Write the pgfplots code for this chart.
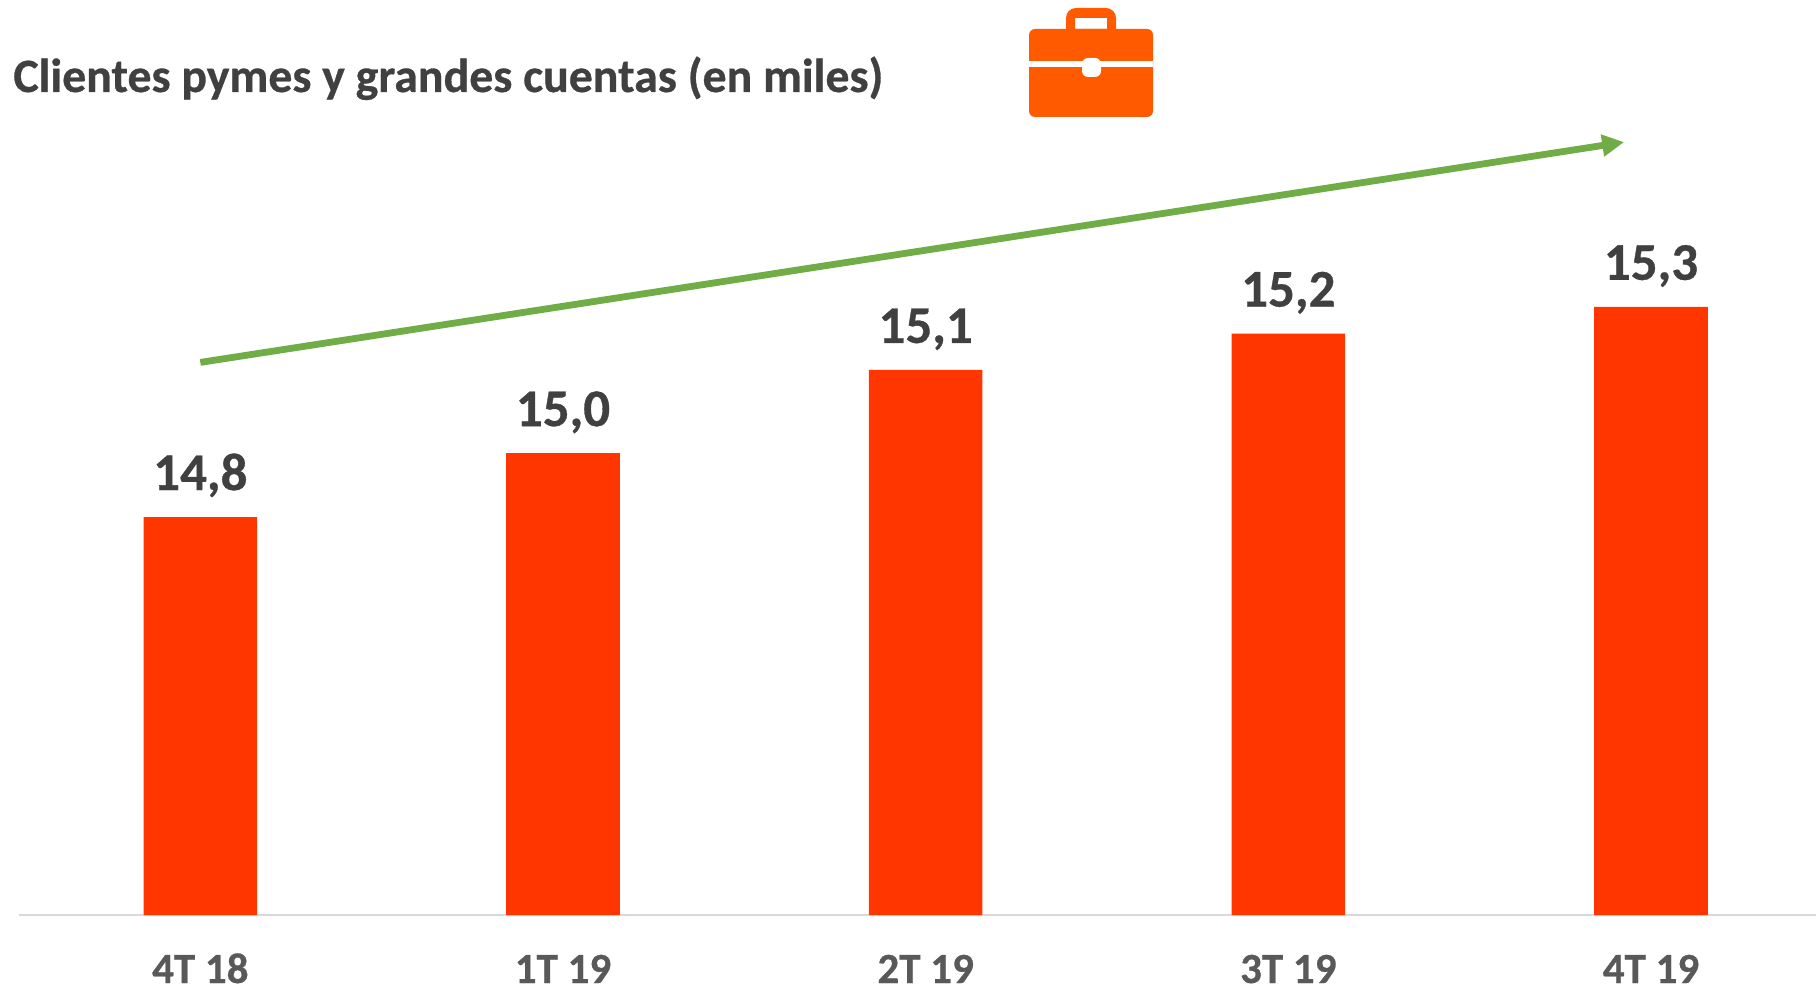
\documentclass[border=0pt]{standalone}
\usepackage{fontspec}
\setmainfont{Carlito}[BoldFeatures={FakeBold=0.6}]
\usepackage{pgfplots}
\pgfplotsset{compat=1.18}
\usetikzlibrary{arrows.meta}
\definecolor{barred}{HTML}{FF3600}
\definecolor{caseor}{HTML}{FF5A00}
\definecolor{arrowgreen}{HTML}{70AD47}
\definecolor{txtdark}{HTML}{404040}
\definecolor{txtgrey}{HTML}{595959}
\definecolor{axisgrey}{HTML}{D9D9D9}
\begin{document}
\begin{tikzpicture}
\path[use as bounding box] (0pt,0pt) rectangle (908pt,493.5pt);
\begin{scope}[x=0.5pt,y=-0.5pt,yshift=493.5pt]
% title
\node[anchor=base west,inner sep=0pt,text=txtdark,font=\bfseries\fontsize{23.9}{26}\selectfont] at (13,92) {Clientes pymes y grandes cuentas (en miles)};
% briefcase icon
\fill[caseor,even odd rule,rounded corners=5pt] (1066,45) -- (1066,8) -- (1116,8) -- (1116,45) -- cycle (1075,29) [sharp corners] -- (1075,18) -- (1107,18) -- (1107,29) -- cycle;
\fill[caseor,rounded corners=3pt] (1029,29) rectangle (1153,117);
\fill[white] (1029,61) rectangle (1153,67);
\fill[white,rounded corners=3pt] (1082,58) -- (1101,58) -- (1101,77) -- (1082,77) -- cycle;
\end{scope}
\begin{axis}[
  at={(9.5pt,36pt)},anchor=south west,
  scale only axis,
  width=898.5pt,height=457.5pt,
  xmin=-0.5,xmax=4.455,
  ymin=13.848,ymax=16.037,
  axis x line=bottom,axis y line=none,
  axis line style={draw=axisgrey,line width=1.2pt,-},
  xtick=data,
  xticklabels={4T 18,1T 19,2T 19,3T 19,4T 19},
  major tick length=0pt,
  tick style={draw=none},
  xticklabel style={anchor=base,yshift=-34pt,text=txtgrey,font=\bfseries\fontsize{21.5}{24}\selectfont},
  clip=false,
]
\addplot[ybar,bar width=56.8pt,bar shift=0pt,fill=barred,draw=none,
  nodes near coords,
  point meta=explicit symbolic,
  every node near coord/.append style={anchor=base,yshift=13.5pt,text=txtdark,font=\bfseries\fontsize{26.5}{30}\selectfont},
] coordinates {
(0,14.8) [14,8]
(1,14.953) [15,0]
(2,15.152) [15,1]
(3,15.239) [15,2]
(4,15.303) [15,3]
};
\addplot[arrowgreen,line width=3.4pt,forget plot,-{Triangle[length=11pt,width=10.5pt]}] coordinates {(0,15.17) (3.926,15.697)};
\end{axis}
\end{tikzpicture}
\end{document}
